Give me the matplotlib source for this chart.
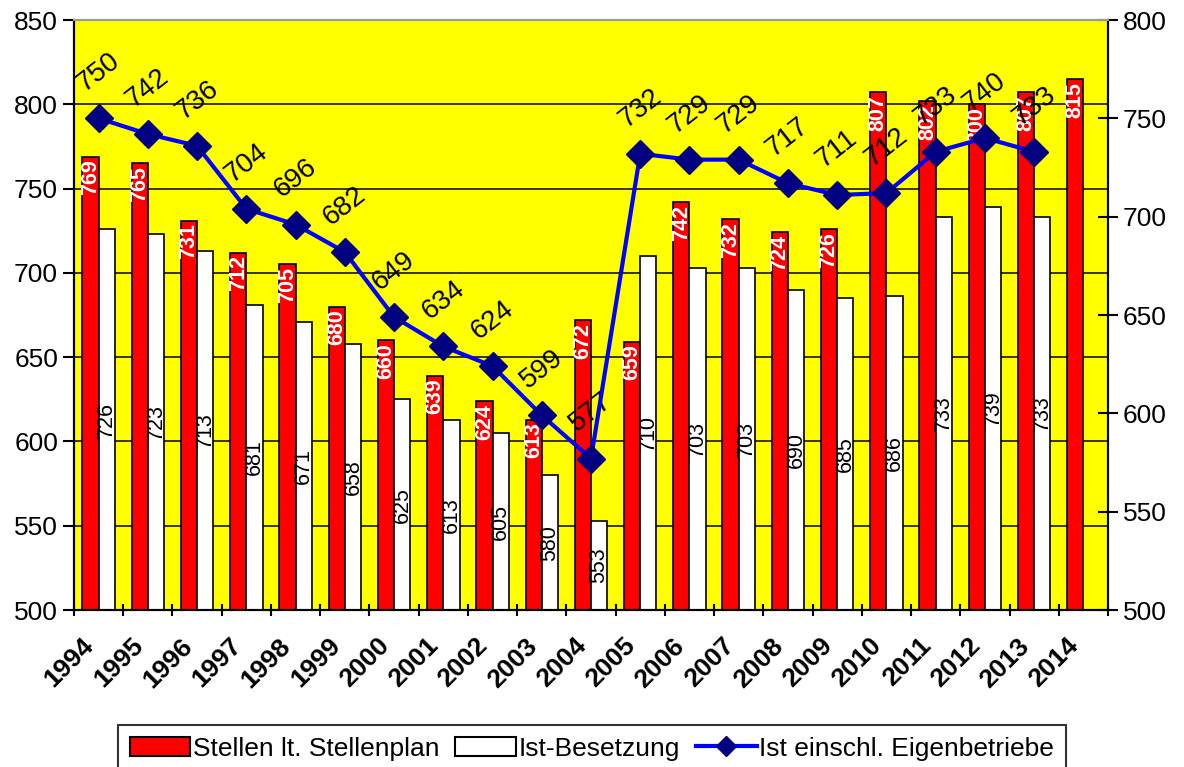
import numpy as np
import matplotlib
matplotlib.use('Agg')
import matplotlib.pyplot as plt
from matplotlib.lines import Line2D
from matplotlib.patches import Patch
from matplotlib.transforms import ScaledTranslation

plt.rcParams['font.family'] = ['Liberation Sans', 'DejaVu Sans']

years = [str(y) for y in range(1994, 2015)]
stellenplan = [769, 765, 731, 712, 705, 680, 660, 639, 624, 613, 672,
               659, 742, 732, 724, 726, 807, 802, 800, 807, 815]
ist_besetzung = [726, 723, 713, 681, 671, 658, 625, 613, 605, 580, 553,
                 710, 703, 703, 690, 685, 686, 733, 739, 733, np.nan]
ist_eigenbetriebe = [750, 742, 736, 704, 696, 682, 649, 634, 624, 599, 577,
                     732, 729, 729, 717, 711, 712, 733, 740, 733, np.nan]

labels = ['Stellen lt. Stellenplan', 'Ist-Besetzung', 'Ist einschl. Eigenbetriebe']

fig = plt.figure(figsize=(11.84, 7.67), dpi=100)
ax1 = fig.add_axes([74 / 1184, 1 - 610 / 767, (1108 - 74) / 1184, 590 / 767])
ax2 = ax1.twinx()

x = np.arange(len(years))
w = 0.33

ax1.set_facecolor('#FFFF00')
ax1.set_axisbelow(True)
ax1.grid(axis='y', color='black', linewidth=1.1)
ax1.bar(x - w / 2, stellenplan, w, color='#FF0000', edgecolor='black', linewidth=1.2, zorder=2)
ax1.bar(x + w / 2, ist_besetzung, w, color='white', edgecolor='black', linewidth=1.2, zorder=2)

ax1.set_xlim(-0.5, len(years) - 0.5)
ax1.set_ylim(500, 850)
ax1.set_yticks(range(500, 851, 50))
ax2.set_ylim(500, 800)
ax2.set_yticks(range(500, 801, 50))

# value labels in the bars
for xi, v in zip(x, stellenplan):
    ax1.annotate(str(v), (xi - w / 2, v), xytext=(0, -2), textcoords='offset points',
                 rotation=90, ha='center', va='top', color='white',
                 fontsize=15.5, fontweight='bold', zorder=3)
for xi, v in zip(x, ist_besetzung):
    if np.isnan(v):
        continue
    ax1.text(xi + w / 2, (500 + v) / 2, str(int(v)), rotation=90,
             ha='center', va='center', color='black', fontsize=15.5, zorder=3)

# line on the right axis
ax2.plot(x, ist_eigenbetriebe, color='#0000FF', linewidth=3, marker='D',
         markersize=14, markerfacecolor='#000080', markeredgecolor='#000080', zorder=4)
for xi, v in zip(x, ist_eigenbetriebe):
    if np.isnan(v):
        continue
    ax2.annotate(str(int(v)), (xi, v), xytext=(0, 33), textcoords='offset points',
                 rotation=38, ha='center', va='center', fontsize=20)

# x axis: labels at categories, tick marks between them
ax1.set_xticks(x)
ax1.set_xticklabels(years, rotation=45, ha='right', rotation_mode='anchor',
                    fontsize=19, fontweight='bold')
ax1.set_xticks(np.arange(-0.5, len(years)), minor=True)
ax1.tick_params(axis='x', which='major', length=0, pad=17)
ax1.tick_params(axis='x', which='minor', length=8, width=1.5, direction='inout')
shift = ScaledTranslation(-17 / 100, 0, fig.dpi_scale_trans)
for lab in ax1.get_xticklabels():
    lab.set_transform(lab.get_transform() + shift)

ax1.tick_params(axis='y', labelsize=19, length=8, width=1.5, direction='out')
ax2.tick_params(axis='y', labelsize=19, length=14, width=1.5, direction='inout')

for ax in (ax1, ax2):
    for side in ('left', 'right', 'bottom'):
        ax.spines[side].set_linewidth(1.5)
        ax.spines[side].set_color('black')
    ax.spines['top'].set_color('#999999')
    ax.spines['top'].set_linewidth(1.5)

handles = [Patch(facecolor='#FF0000', edgecolor='black', linewidth=1.5),
           Patch(facecolor='white', edgecolor='black', linewidth=1.5),
           Line2D([], [], color='#0000FF', linewidth=3, marker='D', markersize=10,
                  markerfacecolor='#000080', markeredgecolor='#000080')]
leg = fig.legend(handles, labels, loc='upper center', bbox_to_anchor=(0.5, 1 - 725 / 767),
                 ncol=3, frameon=True, fancybox=False, edgecolor='black', fontsize=19,
                 handlelength=2.3, handleheight=0.75, columnspacing=0.6,
                 handletextpad=0.1, borderpad=0.45, borderaxespad=0)
leg.get_frame().set_linewidth(1.5)

fig.savefig('out.png', dpi=100)
